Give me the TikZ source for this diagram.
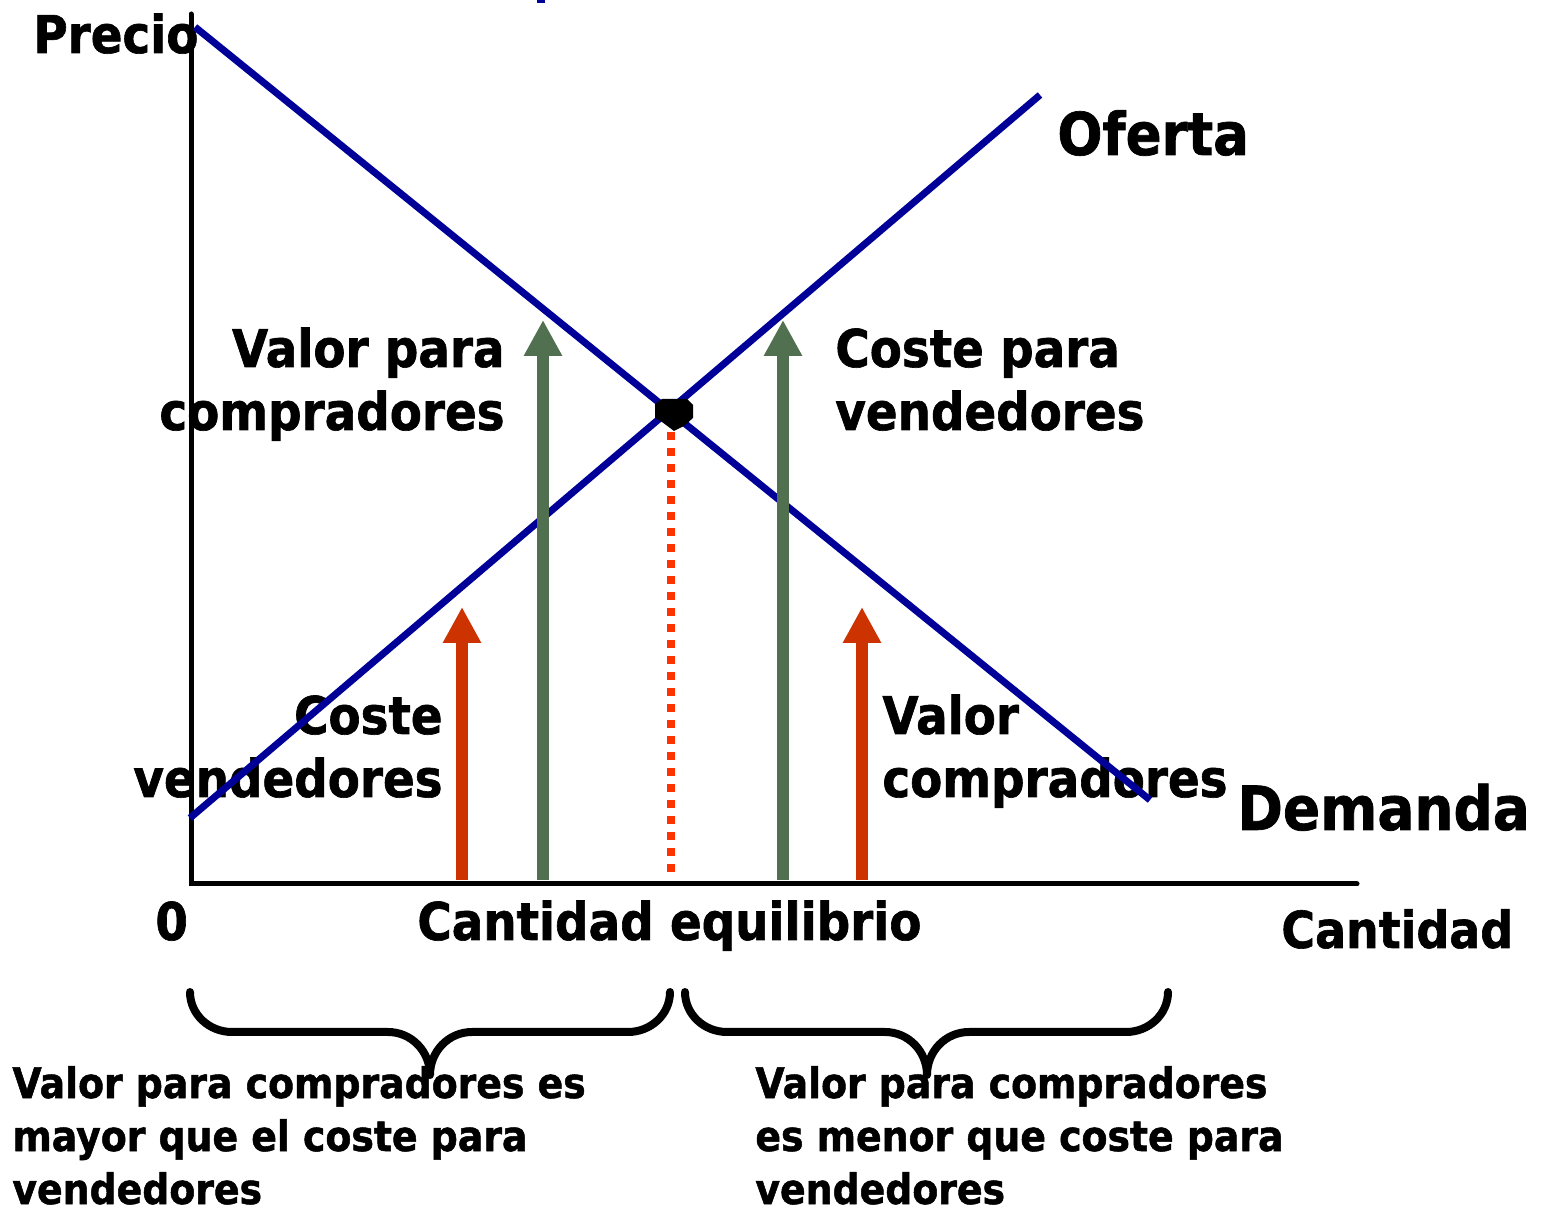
\documentclass[tikz,border=0pt]{standalone}
\usepackage{fontspec}
\setmainfont{DejaVu Sans}[FakeStretch=0.9, BoldFeatures={FakeBold=1.2}]
\usetikzlibrary{arrows.meta}
\usetikzlibrary{calc}
\definecolor{curveblue}{RGB}{0,0,153}
\definecolor{valgreen}{RGB}{80,112,80}
\definecolor{costred}{RGB}{204,51,0}
\definecolor{dotred}{RGB}{255,51,0}

\begin{document}
\begin{tikzpicture}[x=0.5pt,y=-0.5pt,
	lbl/.style={font=\bfseries\fontsize{26}{31.5}\selectfont, inner sep=0pt},
	note/.style={font=\bfseries\fontsize{21}{26.5}\selectfont, inner sep=0pt, align=left},
	curve/.style={curveblue, line width=3.5pt},
	axisline/.style={line width=2.5pt, line cap=round},
	upval/.style={valgreen, line width=6pt, -{Triangle[length=18pt,width=18pt]}},
	upcost/.style={costred, line width=6pt, -{Triangle[length=18pt,width=18pt]}},
	bracket/.style={line width=4pt, line cap=round, line join=round}]
	\useasboundingbox (0,0) rectangle (1544,1213);
	\fill[curveblue] (537,0) rectangle (545,3);

	% labels (base = last line)
	\node[lbl, anchor=base west] (precio) at (33,53) {Precio};
	\node[lbl, anchor=base west, font=\bfseries\fontsize{29.5}{34}\selectfont] (oferta) at (1057,155) {Oferta};
	\node[lbl, anchor=base west, font=\bfseries\fontsize{30.5}{35}\selectfont] (demanda) at (1237,830) {Demanda};
	\node[lbl, anchor=base west] (cero) at (155,940) {0};
	\node[lbl, anchor=base west] (qeq) at (417,940) {Cantidad equilibrio};
	\node[lbl, anchor=base west, font=\bfseries\fontsize{25.5}{31}\selectfont] (cantidad) at (1281,948) {Cantidad};
	\node[lbl, anchor=base east, align=right] (valcomp) at (505,430) {Valor para\\compradores};
	\node[lbl, anchor=base west, align=left] (costvend) at (835,430) {Coste para\\vendedores};
	\node[lbl, anchor=base east, align=right] (costlow) at (443,797) {Coste\\vendedores};
	\node[lbl, anchor=base west, align=left] (vallow) at (882,797) {Valor\\compradores};
	\node[note, anchor=base west] (leftnote) at (12,1204) {Valor para compradores es\\mayor que el coste para\\vendedores};
	\node[note, anchor=base west] (rightnote) at (755,1204) {Valor para compradores\\es menor que coste para\\vendedores};

	% axes and curves
	\coordinate (o) at (191,884);
	\coordinate (ytop) at (191,14);
	\coordinate (xend) at (1357,884);
	\draw[axisline] (ytop) -- (o) -- (xend);
	\coordinate (d1) at (195,27);
	\coordinate (d2) at (1150,800);
	\coordinate (s1) at (190,818);
	\coordinate (s2) at (1040,95);
	\draw[curve] (d1) -- (d2);
	\draw[curve] (s1) -- (s2);

	% equilibrium
	\coordinate (eq) at (673,414);
	\coordinate (eqbase) at (671,877);
	\draw[dotred, line width=4pt, dash pattern=on 4pt off 4pt] ($(eq)+(-2,18)$) -- (eqbase);
	\fill (655,404) -- (662,399) -- (687,399) -- (693,405) -- (693,418) -- (684,426) -- (674,431) -- (662,422) -- (655,418) -- cycle;

	% arrows
	\draw[upcost] (462,880) -- (462,607);
	\draw[upval] (543,880) -- (543,320);
	\draw[upval] (783,880) -- (783,320);
	\draw[upcost] (862,880) -- (862,607);

	% braces
	\draw[bracket] (190,992) to[out=-90,in=180] (232,1032) -- (388,1032) to[out=0,in=90] (430,1075)
		to[out=90,in=180] (472,1032) -- (628,1032) to[out=0,in=-90] (670,992);
	\draw[bracket] (685,992) to[out=-90,in=180] (727,1032) -- (885,1032) to[out=0,in=90] (927,1075)
		to[out=90,in=180] (969,1032) -- (1126,1032) to[out=0,in=-90] (1168,992);
\end{tikzpicture}
\end{document}
